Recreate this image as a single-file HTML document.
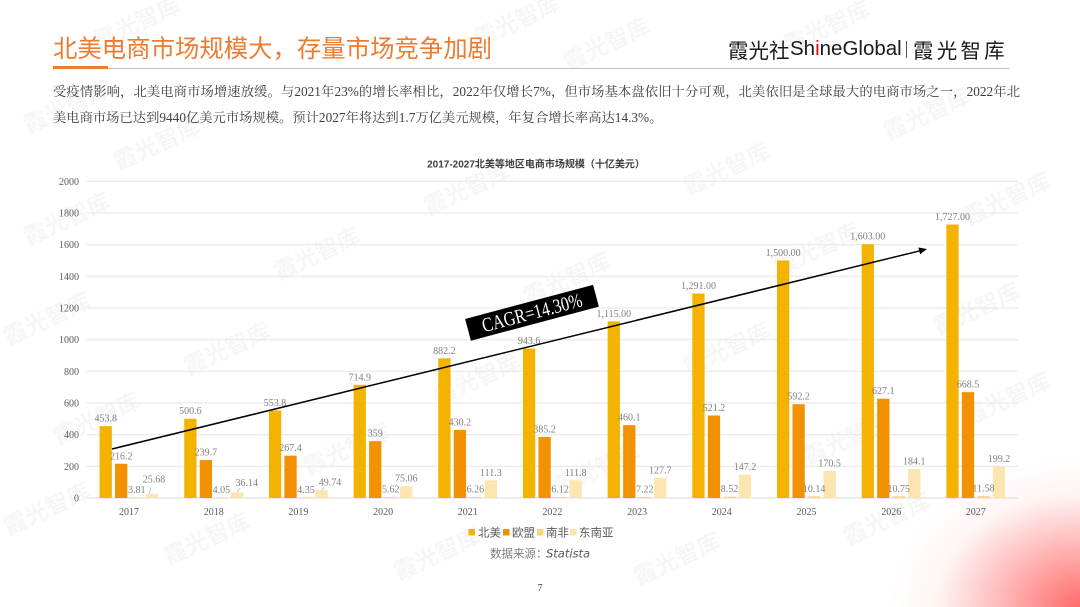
<!DOCTYPE html>
<html><head><meta charset="utf-8">
<style>
html,body{margin:0;padding:0;background:#fff;}
#page{position:relative;width:1080px;height:607px;overflow:hidden;background:#fff;}
.abs{position:absolute;white-space:nowrap;}
.wm{position:absolute;font-family:"Liberation Sans","Noto Sans CJK SC",sans-serif;font-weight:bold;font-size:23px;color:rgba(0,0,0,0.035);transform:rotate(-25deg);white-space:nowrap;}
.body{font-family:"Liberation Serif","Noto Serif CJK SC",serif;font-size:13.3px;color:#404040;line-height:26px;}
</style></head>
<body><div id="page">

<!-- red glow bottom right -->
<div class="abs" style="left:880px;top:440px;width:200px;height:167px;background:radial-gradient(ellipse 190px 150px at 200px 167px, rgba(255,90,90,0.9) 0%, rgba(255,120,120,0.55) 40%, rgba(255,200,200,0.2) 75%, rgba(255,255,255,0) 100%);"></div>

<!-- watermarks -->
<div class="wm" style="left:90px;top:4px;">霞光智库</div>
<div class="wm" style="left:470px;top:2px;">霞光智库</div>
<div class="wm" style="left:780px;top:8px;">霞光智库</div>
<div class="wm" style="left:20px;top:88px;">霞光智库</div>
<div class="wm" style="left:560px;top:25px;">霞光智库</div>
<div class="wm" style="left:880px;top:95px;">霞光智库</div>
<div class="wm" style="left:110px;top:125px;">霞光智库</div>
<div class="wm" style="left:420px;top:170px;">霞光智库</div>
<div class="wm" style="left:680px;top:150px;">霞光智库</div>
<div class="wm" style="left:960px;top:180px;">霞光智库</div>
<div class="wm" style="left:20px;top:200px;">霞光智库</div>
<div class="wm" style="left:270px;top:235px;">霞光智库</div>
<div class="wm" style="left:520px;top:260px;">霞光智库</div>
<div class="wm" style="left:770px;top:230px;">霞光智库</div>
<div class="wm" style="left:0px;top:300px;">霞光智库</div>
<div class="wm" style="left:180px;top:330px;">霞光智库</div>
<div class="wm" style="left:430px;top:360px;">霞光智库</div>
<div class="wm" style="left:680px;top:330px;">霞光智库</div>
<div class="wm" style="left:930px;top:290px;">霞光智库</div>
<div class="wm" style="left:50px;top:400px;">霞光智库</div>
<div class="wm" style="left:300px;top:430px;">霞光智库</div>
<div class="wm" style="left:550px;top:450px;">霞光智库</div>
<div class="wm" style="left:800px;top:420px;">霞光智库</div>
<div class="wm" style="left:960px;top:380px;">霞光智库</div>
<div class="wm" style="left:0px;top:490px;">霞光智库</div>
<div class="wm" style="left:160px;top:520px;">霞光智库</div>
<div class="wm" style="left:390px;top:535px;">霞光智库</div>
<div class="wm" style="left:630px;top:540px;">霞光智库</div>
<div class="wm" style="left:840px;top:500px;">霞光智库</div>

<!-- header -->
<div class="abs" style="left:53px;top:34px;font-family:'Noto Sans CJK SC',sans-serif;font-size:24.4px;line-height:27px;color:#EE7B30;">北美电商市场规模大，存量市场竞争加剧</div>
<div class="abs" style="left:53px;top:68px;width:957px;height:1px;background:#bfbfbf;"></div>
<div class="abs" style="left:53px;top:66px;width:55px;height:3px;background:#ED7D31;"></div>

<!-- logo -->
<div class="abs" style="left:728px;top:36px;font-family:'Noto Sans CJK SC',sans-serif;font-size:20.5px;line-height:26px;color:#1a1a1a;">霞光社</div>
<div class="abs" style="left:790px;top:36px;font-family:'Liberation Sans',sans-serif;font-size:20.5px;line-height:26px;color:#1a1a1a;">Sh<span style="color:#E60012;">i</span>neGlobal</div>
<div class="abs" style="left:906px;top:41px;width:1.3px;height:17px;background:#555;"></div>
<div class="abs" style="left:913px;top:36px;font-family:'Noto Sans CJK SC',sans-serif;font-size:20.5px;line-height:26px;letter-spacing:3.2px;color:#1a1a1a;">霞光智库</div>

<!-- body text -->
<div class="abs body" style="left:53px;top:79px;width:967px;text-align:justify;text-align-last:justify;">受疫情影响，北美电商市场增速放缓。与2021年23%的增长率相比，2022年仅增长7%，但市场基本盘依旧十分可观，北美依旧是全球最大的电商市场之一，2022年北</div>
<div class="abs body" style="left:53px;top:105px;">美电商市场已达到9440亿美元市场规模。预计2027年将达到1.7万亿美元规模，年复合增长率高达14.3%。</div>

<!-- chart -->
<svg class="abs" style="left:0;top:0;" width="1080" height="607" xmlns="http://www.w3.org/2000/svg">
<text x="536" y="167.5" text-anchor="middle" font-family="Liberation Sans, Noto Sans CJK SC, sans-serif" font-size="10" font-weight="bold" fill="#404040">2017-2027北美等地区电商市场规模（十亿美元）</text>

<g stroke="#e6e6e6" stroke-width="1">
<line x1="86.7" y1="181.3" x2="1018" y2="181.3"/>
<line x1="86.7" y1="213" x2="1018" y2="213"/>
<line x1="86.7" y1="244.7" x2="1018" y2="244.7"/>
<line x1="86.7" y1="276.3" x2="1018" y2="276.3"/>
<line x1="86.7" y1="308" x2="1018" y2="308"/>
<line x1="86.7" y1="339.7" x2="1018" y2="339.7"/>
<line x1="86.7" y1="371.3" x2="1018" y2="371.3"/>
<line x1="86.7" y1="403" x2="1018" y2="403"/>
<line x1="86.7" y1="434.7" x2="1018" y2="434.7"/>
<line x1="86.7" y1="466.3" x2="1018" y2="466.3"/>
</g>
<line x1="86.7" y1="498" x2="1018" y2="498" stroke="#d9d9d9" stroke-width="1"/>

<g font-family="Liberation Serif, serif" font-size="10" fill="#595959" text-anchor="end">
<text x="79" y="184.8">2000</text>
<text x="79" y="216.5">1800</text>
<text x="79" y="248.2">1600</text>
<text x="79" y="279.8">1400</text>
<text x="79" y="311.5">1200</text>
<text x="79" y="343.2">1000</text>
<text x="79" y="374.8">800</text>
<text x="79" y="406.5">600</text>
<text x="79" y="438.2">400</text>
<text x="79" y="469.8">200</text>
<text x="79" y="501.5">0</text>
</g>

<g font-family="Liberation Serif, serif" font-size="10" fill="#595959" text-anchor="middle">
<text x="129" y="515">2017</text>
<text x="213.7" y="515">2018</text>
<text x="298.4" y="515">2019</text>
<text x="383.1" y="515">2020</text>
<text x="467.8" y="515">2021</text>
<text x="552.4" y="515">2022</text>
<text x="637.1" y="515">2023</text>
<text x="721.8" y="515">2024</text>
<text x="806.5" y="515">2025</text>
<text x="891.2" y="515">2026</text>
<text x="975.8" y="515">2027</text>
</g>

<!-- 北美 -->
<g fill="#F3B300">
<rect x="99.54" y="426.14" width="12.3" height="71.86"/>
<rect x="184.22" y="418.73" width="12.3" height="79.27"/>
<rect x="268.9" y="410.31" width="12.3" height="87.69"/>
<rect x="353.58" y="384.8" width="12.3" height="113.2"/>
<rect x="438.26" y="358.3" width="12.3" height="139.7"/>
<rect x="522.94" y="348.58" width="12.3" height="149.42"/>
<rect x="607.62" y="321.44" width="12.3" height="176.56"/>
<rect x="692.3" y="293.57" width="12.3" height="204.43"/>
<rect x="776.98" y="260.47" width="12.3" height="237.53"/>
<rect x="861.66" y="244.17" width="12.3" height="253.83"/>
<rect x="946.34" y="224.53" width="12.3" height="273.47"/>
</g>
<!-- 欧盟 -->
<g fill="#F39200">
<rect x="115.04" y="463.76" width="12.3" height="34.24"/>
<rect x="199.72" y="460.04" width="12.3" height="37.96"/>
<rect x="284.4" y="455.66" width="12.3" height="42.34"/>
<rect x="369.08" y="441.15" width="12.3" height="56.85"/>
<rect x="453.76" y="429.88" width="12.3" height="68.12"/>
<rect x="538.44" y="437" width="12.3" height="61"/>
<rect x="623.12" y="425.14" width="12.3" height="72.86"/>
<rect x="707.8" y="415.47" width="12.3" height="82.53"/>
<rect x="792.48" y="404.23" width="12.3" height="93.77"/>
<rect x="877.16" y="398.7" width="12.3" height="99.3"/>
<rect x="961.84" y="392.14" width="12.3" height="105.86"/>
</g>
<!-- 南非 -->
<g fill="#F9D67A">
<rect x="130.54" y="497.4" width="12.3" height="0.6"/>
<rect x="215.22" y="497.36" width="12.3" height="0.64"/>
<rect x="299.9" y="497.31" width="12.3" height="0.69"/>
<rect x="384.58" y="497.11" width="12.3" height="0.89"/>
<rect x="469.26" y="497.01" width="12.3" height="0.99"/>
<rect x="553.94" y="497.03" width="12.3" height="0.97"/>
<rect x="638.62" y="496.86" width="12.3" height="1.14"/>
<rect x="723.3" y="496.65" width="12.3" height="1.35"/>
<rect x="807.98" y="496.39" width="12.3" height="1.61"/>
<rect x="892.66" y="496.3" width="12.3" height="1.7"/>
<rect x="977.34" y="496.17" width="12.3" height="1.83"/>
</g>
<!-- 东南亚 -->
<g fill="#FDE5B0">
<rect x="146.04" y="493.93" width="12.3" height="4.07"/>
<rect x="230.72" y="492.28" width="12.3" height="5.72"/>
<rect x="315.4" y="490.12" width="12.3" height="7.88"/>
<rect x="400.08" y="486.11" width="12.3" height="11.89"/>
<rect x="484.76" y="480.38" width="12.3" height="17.62"/>
<rect x="569.44" y="480.3" width="12.3" height="17.7"/>
<rect x="654.12" y="477.78" width="12.3" height="20.22"/>
<rect x="738.8" y="474.69" width="12.3" height="23.31"/>
<rect x="823.48" y="471" width="12.3" height="27"/>
<rect x="908.16" y="468.85" width="12.3" height="29.15"/>
<rect x="992.84" y="466.46" width="12.3" height="31.54"/>
</g>

<!-- data labels -->
<g font-family="Liberation Serif, serif" font-size="10" fill="#7f7f7f" text-anchor="middle">
<text x="105.69" y="421.6">453.8</text>
<text x="190.37" y="414.2">500.6</text>
<text x="275.05" y="405.8">553.8</text>
<text x="359.73" y="380.3">714.9</text>
<text x="444.41" y="353.8">882.2</text>
<text x="529.09" y="344.1">943.6</text>
<text x="613.77" y="316.9">1,115.00</text>
<text x="698.45" y="289.1">1,291.00</text>
<text x="783.13" y="256">1,500.00</text>
<text x="867.81" y="239.7">1,603.00</text>
<text x="952.49" y="220">1,727.00</text>

<text x="121.19" y="459.3">216.2</text>
<text x="205.87" y="455.5">239.7</text>
<text x="290.55" y="451.2">267.4</text>
<text x="375.23" y="436.7">359</text>
<text x="459.91" y="425.4">430.2</text>
<text x="544.59" y="432.5">385.2</text>
<text x="629.27" y="420.6">460.1</text>
<text x="713.95" y="411">521.2</text>
<text x="798.63" y="399.7">592.2</text>
<text x="883.31" y="394.2">627.1</text>
<text x="967.99" y="387.6">668.5</text>

<text x="136.69" y="493">3.81</text>
<text x="221.37" y="493">4.05</text>
<text x="306.05" y="493">4.35</text>
<text x="390.73" y="492.6">5.62</text>
<text x="475.41" y="492.5">6.26</text>
<text x="560.09" y="492.5">6.12</text>
<text x="644.77" y="492.4">7.22</text>
<text x="729.45" y="492.2">8.52</text>
<text x="814.13" y="491.9">10.14</text>
<text x="898.81" y="491.8">10.75</text>
<text x="983.49" y="491.7">11.58</text>

<text x="154" y="482.5">25.68</text>
<text x="246.7" y="486.2">36.14</text>
<text x="330" y="485.5">49.74</text>
<text x="406.23" y="481.6">75.06</text>
<text x="490.91" y="475.9">111.3</text>
<text x="575.59" y="475.8">111.8</text>
<text x="660.27" y="473.3">127.7</text>
<text x="744.95" y="470.2">147.2</text>
<text x="829.63" y="466.5">170.5</text>
<text x="914.31" y="464.3">184.1</text>
<text x="998.99" y="462">199.2</text>
</g>
<g stroke="#bfbfbf" stroke-width="0.8">
<line x1="151" y1="487.5" x2="149" y2="494"/>
<line x1="237" y1="492.3" x2="240" y2="488"/>
<line x1="321.5" y1="490.2" x2="324" y2="487.5"/>
</g>

<!-- trend arrow -->
<line x1="112" y1="449" x2="920" y2="250.8" stroke="#000" stroke-width="1.5"/>
<polygon points="927,249 920.1,254.3 918.4,247.5" fill="#000"/>

<!-- CAGR label -->
<g transform="translate(532,312.8) rotate(-14.9)">
<rect x="-66.2" y="-11.25" width="132.4" height="22.5" fill="#000"/>
<text x="0" y="6.5" transform="scale(0.8,1)" text-anchor="middle" font-family="Liberation Serif, serif" font-size="20" fill="#fff">CAGR=14.30%</text>
</g>

<!-- legend -->
<rect x="468.5" y="529" width="6.5" height="6.5" fill="#F3B300"/>
<rect x="503" y="529" width="6.5" height="6.5" fill="#F39200"/>
<rect x="537" y="529" width="6.5" height="6.5" fill="#F9D67A"/>
<rect x="570" y="529" width="6.5" height="6.5" fill="#FDE5B0"/>
<g font-family="Noto Sans CJK SC, sans-serif" font-size="11.5" fill="#595959">
<text x="478" y="536.5">北美</text>
<text x="512" y="536.5">欧盟</text>
<text x="546" y="536.5">南非</text>
<text x="579" y="536.5">东南亚</text>
</g>

<!-- source -->
<text x="490" y="557.5" font-family="Noto Sans CJK SC, sans-serif" font-size="11.5" fill="#7f7f7f">数据来源：</text>
<text x="546" y="557.5" font-family="DejaVu Sans, sans-serif" font-style="italic" font-size="11.5" fill="#595959">Statista</text>

<text x="540" y="591" text-anchor="middle" font-family="Liberation Serif, serif" font-size="10" fill="#404040">7</text>
</svg>

</div></body></html>
